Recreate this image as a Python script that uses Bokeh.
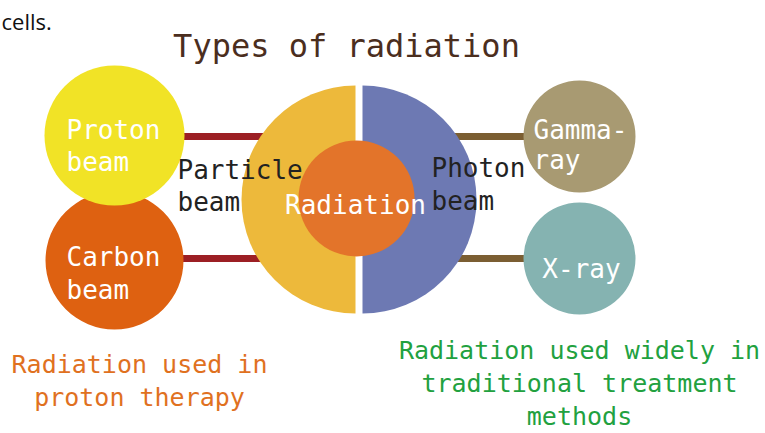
from bokeh.plotting import figure
from bokeh.models import Range1d
from bokeh.core.properties import value
from bokeh.embed import file_html
from bokeh.resources import INLINE

# ---- content ----
title_text = "Types of radiation"
corner_text = "cells."
node_labels = ["Proton\nbeam", "Carbon\nbeam", "Gamma-\nray", "X-ray"]
branch_labels = ["Particle\nbeam", "Photon\nbeam"]
center_label = "Radiation"
left_note = ["Radiation used in", "proton therapy"]
right_note = ["Radiation used widely in", "traditional treatment", "methods"]

# ---- layout (pixel space of the picture) ----
node_x = [114, 114, 579, 579]
node_y = [135, 260, 136, 258]
node_r = [70, 69, 56, 56]
node_colors = ["#F1E326", "#DE6111", "#A89A72", "#85B3B1"]

MONO = value("DejaVu Sans Mono")

W, H = 765, 433
p = figure(width=W, height=H, output_backend="svg", toolbar_location=None,
           x_range=Range1d(0, W), y_range=Range1d(H, 0),
           min_border=0, background_fill_color="white", border_fill_color="white")
p.axis.visible = False
p.grid.visible = False
p.outline_line_color = None

# connector bars
p.segment(x0=[150, 150], y0=[136, 258], x1=[300, 300], y1=[136, 258],
          line_color="#9C1F24", line_width=7)
p.segment(x0=[420, 420], y0=[136, 258], x1=[560, 560], y1=[136, 258],
          line_color="#7B5E32", line_width=7)

# big split disc
p.wedge(x=[355], y=[199], radius=114, start_angle=90, end_angle=270,
        start_angle_units="deg", end_angle_units="deg",
        fill_color="#EDB93B", line_color=None)
p.wedge(x=[362], y=[199], radius=114, start_angle=-90, end_angle=90,
        start_angle_units="deg", end_angle_units="deg",
        fill_color="#6D79B3", line_color=None)
p.circle(x=[356], y=[198], radius=58, fill_color="#E3742A", line_color=None)

# nodes: carbon first so proton overlaps it
order = [1, 0, 2, 3]
p.circle(x=[node_x[i] for i in order], y=[node_y[i] for i in order],
         radius=[node_r[i] for i in order],
         fill_color=[node_colors[i] for i in order], line_color=None)

def lines(x, y, txt, color, size, align="left", step=32, font=MONO):
    parts = txt.split("\n")
    p.text(x=[x] * len(parts), y=[y + k * step for k in range(len(parts))],
           text=parts, text_color=color, text_font=font,
           text_font_size=f"{size}px", text_align=align,
           text_baseline="alphabetic")

# node labels
lines(66, 129, node_labels[0], "white", 26)
lines(66, 256, node_labels[1], "white", 26, step=33)
lines(533, 129, node_labels[2], "white", 26, step=30)
lines(581, 268, node_labels[3], "white", 26, align="center")

# branch labels
lines(177, 169, branch_labels[0], "#222222", 26)
lines(431, 167, branch_labels[1], "#222222", 26, step=33)
lines(355, 204, center_label, "white", 26, align="center")

# title
lines(346, 45, title_text, "#4B2E1E", 32, align="center")
lines(1, 20, corner_text, "#111111", 22, font=value("Open Sans"))

# notes
lines(139, 364, "\n".join(left_note), "#E0711F", 25, align="center", step=33)
lines(579, 350, "\n".join(right_note), "#22A13F", 25, align="center", step=33)

open("out.html", "w").write(file_html(p, INLINE))
